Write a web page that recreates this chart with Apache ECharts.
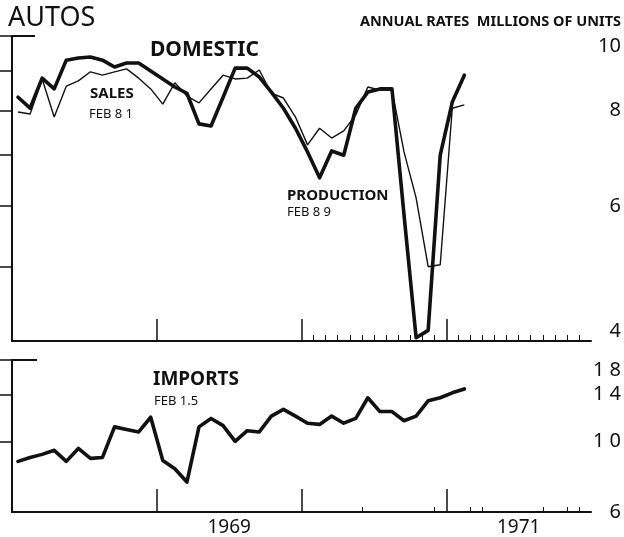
<!DOCTYPE html>
<html>
<head>
<meta charset="utf-8">
<script src="https://cdn.jsdelivr.net/npm/echarts@6/dist/echarts.min.js"></script>
<style>
html,body{margin:0;padding:0;background:#fff;}
#chart{width:624px;height:537px;}
</style>
</head>
<body>
<div id="chart"></div>
<script>
// Months plotted (mid-month), Jan 1968 .. Feb 1971
const months = ['Jan 68','Feb 68','Mar 68','Apr 68','May 68','Jun 68','Jul 68','Aug 68','Sep 68','Oct 68','Nov 68','Dec 68',
  'Jan 69','Feb 69','Mar 69','Apr 69','May 69','Jun 69','Jul 69','Aug 69','Sep 69','Oct 69','Nov 69','Dec 69',
  'Jan 70','Feb 70','Mar 70','Apr 70','May 70','Jun 70','Jul 70','Aug 70','Sep 70','Oct 70','Nov 70','Dec 70',
  'Jan 71','Feb 71'];

// Domestic autos, annual rates, millions of units
const production = [8.32, 8.05, 8.81, 8.53, 9.30, 9.36, 9.39, 9.30, 9.11, 9.22, 9.22, 9.00,
  8.79, 8.58, 8.42, 7.68, 7.63, 8.32, 9.08, 9.08, 8.84, 8.45, 8.05, 7.58,
  7.06, 6.53, 7.08, 6.99, 8.05, 8.45, 8.53, 8.53, 5.84, 4.04, 4.13, 6.99,
  8.20, 8.89];
const sales = [7.96, 7.91, 8.79, 7.84, 8.60, 8.74, 8.98, 8.89, 8.98, 9.06, 8.81, 8.53,
  8.15, 8.69, 8.35, 8.18, 8.53, 8.89, 8.79, 8.81, 9.03, 8.42, 8.30, 7.84,
  7.21, 7.58, 7.36, 7.52, 7.89, 8.58, 8.50, 8.50, 7.06, 6.15, 5.00, 5.03,
  8.05, 8.13];
// Imports, millions of units
const imports = [0.865, 0.89, 0.91, 0.937, 0.865, 0.95, 0.884, 0.89, 1.11, 1.09, 1.07, 1.19,
  0.87, 0.82, 0.745, 1.11, 1.18, 1.12, 1.00, 1.08, 1.07, 1.20, 1.26, 1.20,
  1.14, 1.13, 1.20, 1.14, 1.18, 1.37, 1.24, 1.24, 1.16, 1.20, 1.34, 1.37,
  1.42, 1.46];

// Axis tick labels
const domesticTickValues = [4, 6, 8, 10];
const domesticTickLabels = ['4', '6', '8', '10'];
const importTickValues = [0.6, 1.0, 1.4, 1.8];
const importTickLabels = ['6', '1 0', '1 4', '1 8'];
const yearLabels = ['1969', '1971'];
const startYear = 1968;

function series(vals) { return vals.map((v, i) => [months.indexOf(months[i]) + 0.5, v]); }
function yearPos(y) { return (parseInt(y, 10) - startYear) * 12 + 6; }

const ink = '#111';
const majorX = [12, 24, 36];
const minorTop = [];
for (let m = 25; m < 48; m++) if (m !== 36) minorTop.push(m);
const minorBottom = [29, 35, 38, 39, 44, 46, 47];

function xAxisBase(grid) {
  return { gridIndex: grid, type: 'value', min: 0, max: 48, position: 'bottom',
    splitLine: { show: false }, axisLabel: { show: false } };
}

const option = {
  backgroundColor: '#fff',
  animation: false,
  grid: [
    { left: 12, right: 32, top: 36, height: 305 },
    { left: 12, right: 32, top: 360, height: 153 }
  ],
  xAxis: [
    Object.assign(xAxisBase(0), {
      axisLine: { show: true, lineStyle: { color: ink, width: 2 } },
      axisTick: { show: true, inside: true, length: 22, customValues: majorX, lineStyle: { color: ink, width: 1.5 } }
    }),
    Object.assign(xAxisBase(0), {
      axisLine: { show: false },
      axisTick: { show: true, inside: true, length: 6, customValues: minorTop, lineStyle: { color: ink, width: 1 } }
    }),
    Object.assign(xAxisBase(1), {
      axisLine: { show: true, lineStyle: { color: ink, width: 2 } },
      axisTick: { show: true, inside: true, length: 23, customValues: majorX, lineStyle: { color: ink, width: 1.5 } },
      axisLabel: { show: true, customValues: yearLabels.map(yearPos), color: ink, fontSize: 19,
        fontFamily: 'Noto Sans', margin: 6,
        formatter: v => yearLabels[yearLabels.map(yearPos).indexOf(v)] || '' }
    }),
    Object.assign(xAxisBase(1), {
      axisLine: { show: false },
      axisTick: { show: true, inside: true, length: 5, customValues: minorBottom, lineStyle: { color: ink, width: 1 } }
    })
  ],
  yAxis: [
    { gridIndex: 0, type: 'log', logBase: 10, min: 4, max: 10, position: 'left',
      splitLine: { show: false }, axisLabel: { show: false },
      axisLine: { show: true, lineStyle: { color: ink, width: 2 } },
      axisTick: { show: true, inside: true, length: 23, customValues: [10], lineStyle: { color: ink, width: 2 } } },
    { gridIndex: 0, type: 'log', logBase: 10, min: 4, max: 10, position: 'right',
      splitLine: { show: false },
      axisLine: { show: true, lineStyle: { color: ink, width: 2 } },
      axisTick: { show: true, inside: true, length: 25, customValues: [5, 6, 7, 8, 9, 10], lineStyle: { color: ink, width: 1.5 } },
      axisLabel: { show: true, customValues: domesticTickValues, margin: 30, align: 'right', color: ink, fontSize: 20,
        fontFamily: 'Noto Sans', verticalAlignMinLabel: 'bottom', verticalAlignMaxLabel: 'top',
        formatter: v => { const k = domesticTickValues.findIndex(t => Math.abs(t - v) < 1e-6); return k >= 0 ? domesticTickLabels[k] : ''; } } },
    { gridIndex: 1, type: 'log', logBase: 10, min: 0.6, max: 1.8, position: 'left',
      splitLine: { show: false }, axisLabel: { show: false },
      axisLine: { show: true, lineStyle: { color: ink, width: 2 } },
      axisTick: { show: true, inside: true, length: 25, customValues: [1.8], lineStyle: { color: ink, width: 2 } } },
    { gridIndex: 1, type: 'log', logBase: 10, min: 0.6, max: 1.8, position: 'right',
      splitLine: { show: false },
      axisLine: { show: true, lineStyle: { color: ink, width: 2 } },
      axisTick: { show: true, inside: true, length: 22, customValues: [1.0, 1.4, 1.8], lineStyle: { color: ink, width: 1.5 } },
      axisLabel: { show: true, customValues: importTickValues, margin: 30, align: 'right', color: ink, fontSize: 20,
        fontFamily: 'Noto Sans', verticalAlignMaxLabel: 'top',
        formatter: v => { const k = importTickValues.findIndex(t => Math.abs(t - v) < 1e-6); return k >= 0 ? importTickLabels[k] : ''; } } }
  ],
  series: [
    { name: 'Sales', type: 'line', xAxisIndex: 0, yAxisIndex: 1, data: series(sales), symbol: 'none',
      lineStyle: { color: ink, width: 1.4 } },
    { name: 'Production', type: 'line', xAxisIndex: 0, yAxisIndex: 1, data: series(production), symbol: 'none',
      lineStyle: { color: ink, width: 3.6, join: 'round', cap: 'round' } },
    { name: 'Imports', type: 'line', xAxisIndex: 2, yAxisIndex: 3, data: series(imports), symbol: 'none',
      lineStyle: { color: ink, width: 3.6, join: 'round', cap: 'round' } }
  ],
  graphic: [
    { type: 'text', x: 8, y: 18, style: { text: 'AUTOS', font: '27px "Noto Sans"', fill: ink, textVerticalAlign: 'middle' } },
    { type: 'text', x: 621, y: 22, style: { text: 'ANNUAL RATES  MILLIONS OF UNITS', font: 'bold 14.5px "Noto Sans"', fill: ink, textAlign: 'right', textVerticalAlign: 'middle' } },
    { type: 'text', x: 150, y: 50, style: { text: 'DOMESTIC', font: 'bold 21px "Noto Sans"', fill: ink, textVerticalAlign: 'middle' } },
    { type: 'text', x: 90, y: 94, style: { text: 'SALES', font: 'bold 15px "Noto Sans"', fill: ink, textVerticalAlign: 'middle' } },
    { type: 'text', x: 89, y: 114, style: { text: 'FEB 8 1', font: '13px "Noto Sans"', fill: ink, textVerticalAlign: 'middle' } },
    { type: 'text', x: 287, y: 196, style: { text: 'PRODUCTION', font: 'bold 15px "Noto Sans"', fill: ink, textVerticalAlign: 'middle' } },
    { type: 'text', x: 287, y: 212, style: { text: 'FEB 8 9', font: '13px "Noto Sans"', fill: ink, textVerticalAlign: 'middle' } },
    { type: 'text', x: 153, y: 380, style: { text: 'IMPORTS', font: 'bold 19px "Noto Sans"', fill: ink, textVerticalAlign: 'middle' } },
    { type: 'text', x: 154, y: 401, style: { text: 'FEB 1.5', font: '13px "Noto Sans"', fill: ink, textVerticalAlign: 'middle' } }
  ]
};

const chart = echarts.init(document.getElementById('chart'), null, { renderer: 'canvas' });
chart.setOption(option);
</script>
</body>
</html>
